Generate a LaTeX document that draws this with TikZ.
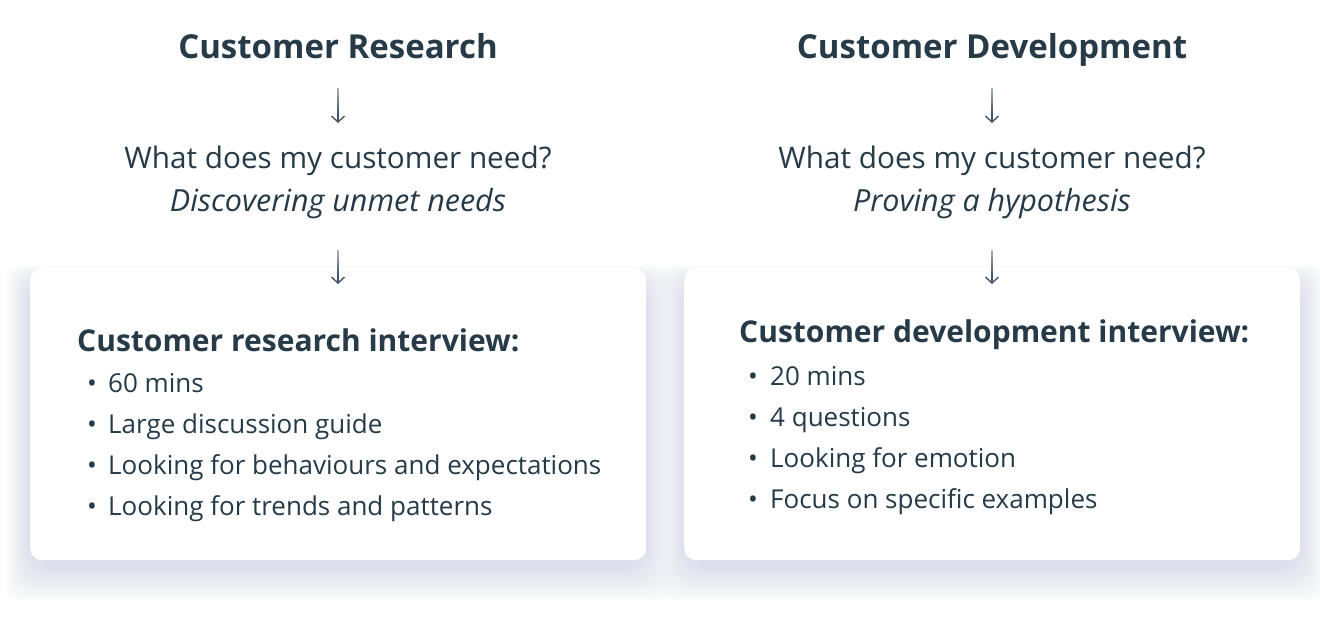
\documentclass[tikz,border=0pt]{standalone}
\usepackage{fontspec}
\setmainfont{Open Sans}
\usetikzlibrary{arrows.meta,fadings}
\definecolor{ink}{HTML}{263A48}
\definecolor{arr}{HTML}{46566A}
\definecolor{shad}{HTML}{A9B6D0}
\tikzfading[name=fadedown, top color=transparent!45, bottom color=transparent!100]
\begin{document}
\begin{tikzpicture}[x=1pt,y=-1pt,
  title/.style={font=\fontsize{33}{38}\selectfont\bfseries, text=ink, inner sep=0pt, anchor=base},
  question/.style={font=\fontsize{29.7}{34}\selectfont, text=ink, inner sep=0pt, anchor=base},
  sub/.style={font=\fontsize{30.5}{35}\selectfont\itshape, text=ink, inner sep=0pt, anchor=base},
  head/.style={font=\fontsize{30}{35}\selectfont\bfseries, text=ink, inner sep=0pt, anchor=base west},
  item/.style={font=\fontsize{26}{30}\selectfont, text=ink, inner sep=0pt, anchor=base west},
  dot/.style={font=\fontsize{26}{30}\selectfont, text=ink, inner sep=0pt, anchor=base},
  flow/.style={draw=arr, line width=1.4pt, -{Straight Barb[length=6pt,width=13pt,line width=1.4pt]}},
  veil/.style={fill=white, path fading=fadedown},
  card/.style={fill=white, rounded corners=12pt},
]
\useasboundingbox (0,0) rectangle (1320,616);
\fill[white] (0,0) rectangle (1320,616);
% shadows
\foreach \bx in {30,684}{
  \foreach \i in {1,...,18}{
    \fill[shad, opacity=0.024, rounded corners={12pt+\i pt}]
      (\bx-26+\i*1.5, 268-4+\i*1.0) rectangle (\bx+616+26-\i*1.5, 560+44-\i*2.2);
  }
}
% cards
\node[card, minimum width=616pt, minimum height=292pt, anchor=north west, inner sep=0pt] (cardL) at (30,268) {};
\node[card, minimum width=616pt, minimum height=292pt, anchor=north west, inner sep=0pt] (cardR) at (684,268) {};

% left column
\node[title] (tL) at (338,58) {Customer Research};
\node[question] (qL) at (338,168) {What does my customer need?};
\node[sub] (sL) at (338,211) {Discovering unmet needs};
\coordinate (a1s) at (338,88); \coordinate (a1e) at (338,123);
\coordinate (a2s) at (338,250); \coordinate (a2e) at (338,284);
\draw[flow] (a1s) -- (a1e);
\draw[flow] (a2s) -- (a2e);
\fill[veil] ([xshift=-2pt]a1s) rectangle ([xshift=2pt,yshift=-24pt]a1s);
\fill[veil] ([xshift=-2pt]a2s) rectangle ([xshift=2pt,yshift=-24pt]a2s);
\node[head] (hL) at (77,351) {Customer research interview:};
\foreach \t [count=\k] in {60 mins, Large discussion guide, Looking for behaviours and expectations, Looking for trends and patterns}{
  \node[dot] (dL\k) at (92,{392+(\k-1)*41}) {•};
  \node[item] (iL\k) at (108,{392+(\k-1)*41}) {\t};
}

% right column
\node[title] (tR) at (992,58) {Customer Development};
\node[question] (qR) at (992,168) {What does my customer need?};
\node[sub] (sR) at (992,211) {Proving a hypothesis};
\coordinate (b1s) at (992,88); \coordinate (b1e) at (992,123);
\coordinate (b2s) at (992,250); \coordinate (b2e) at (992,284);
\draw[flow] (b1s) -- (b1e);
\draw[flow] (b2s) -- (b2e);
\fill[veil] ([xshift=-2pt]b1s) rectangle ([xshift=2pt,yshift=-24pt]b1s);
\fill[veil] ([xshift=-2pt]b2s) rectangle ([xshift=2pt,yshift=-24pt]b2s);
\node[head] (hR) at (739,342) {Customer development interview:};
\foreach \t [count=\k] in {20 mins, 4 questions, Looking for emotion, Focus on specific examples}{
  \node[dot] (dR\k) at (753,{385+(\k-1)*41}) {•};
  \node[item] (iR\k) at (770,{385+(\k-1)*41}) {\t};
}
\end{tikzpicture}
\end{document}
